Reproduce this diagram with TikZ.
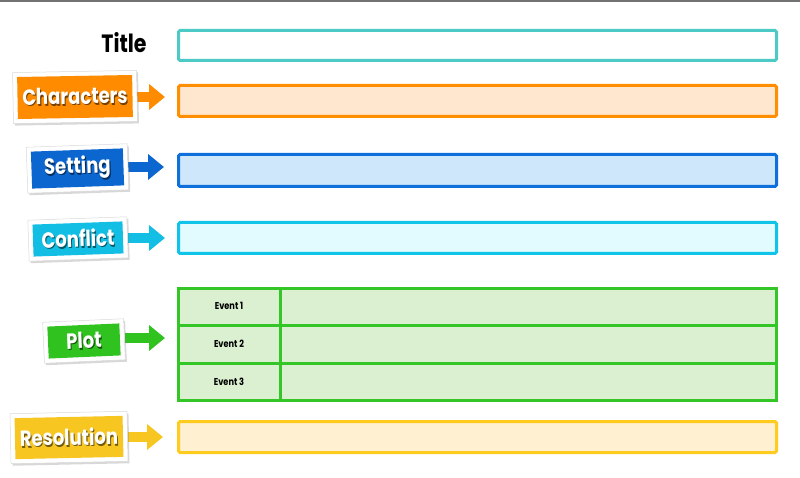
\documentclass[tikz,border=0pt]{standalone}
\usepackage{fontspec}
\setmainfont{Poppins}
\newfontfamily\labelfont{Poppins}[FakeStretch=0.82]
\usetikzlibrary{arrows.meta,shadows,backgrounds}

\definecolor{titleline}{HTML}{4DC9C6}
\definecolor{charline}{HTML}{FF8F00}
\definecolor{charfill}{HTML}{FFE6CE}
\definecolor{charlabel}{HTML}{FF8C00}
\definecolor{setline}{HTML}{0F6FDB}
\definecolor{setfill}{HTML}{CEE7FB}
\definecolor{setlabel}{HTML}{0B66CF}
\definecolor{confline}{HTML}{10C4E9}
\definecolor{conffill}{HTML}{E1FBFF}
\definecolor{conflabel}{HTML}{12BEE3}
\definecolor{plotline}{HTML}{34C527}
\definecolor{plotfill}{HTML}{DAF0D0}
\definecolor{plotlabel}{HTML}{30C21F}
\definecolor{resline}{HTML}{FFCB1F}
\definecolor{resfill}{HTML}{FFF0D1}
\definecolor{reslabel}{HTML}{F8C621}

% white word with a soft dark copy set just below and to the right
\newcommand\shadedword[2]{%
  \rlap{\hspace{1pt}\raisebox{-1.6pt}{\color{#1!45!black}#2}}#2}

% A tilted story label: white card, coloured plate, shadowed white word
% #1 name, #2 x, #3 y, #4 angle, #5 card width, #6 card height, #7 colour, #8 word
\newcommand\storylabel[8]{%
  \node[labelcard, minimum width=#5pt, minimum height=#6pt, rotate=#4] (#1card) at (#2,#3) {};
  \node[labelplate, fill=#7, minimum width={#5pt-9pt}, minimum height={#6pt-9pt}, rotate=#4] (#1plate) at (#2,#3) {};
  \node[labelword, rotate=#4] (#1word) at (#2,#3) {\shadedword{#7}{#8}};%
}

\begin{document}
\begin{tikzpicture}[x=1pt,y=-1pt,
  panel/.style={line width=3pt, rounded corners=1.5pt, minimum width=598pt, inner sep=0pt},
  labelcard/.style={fill=white, draw=black!15, line width=0.5pt, inner sep=0pt,
    drop shadow={shadow xshift=1.5pt, shadow yshift=-2pt, opacity=.3}},
  labelplate/.style={inner sep=0pt},
  labelword/.style={text=white, inner sep=0pt, font=\labelfont\fontsize{22}{24}\selectfont\bfseries},
  pointer/.style={line width=10pt, -{Triangle[length=16pt, width=25pt]}},
  eventtext/.style={font=\labelfont\fontsize{10}{11}\selectfont\bfseries, inner sep=0pt}]

\useasboundingbox (0,0) rectangle (800,478);
\begin{scope}[on background layer]
\fill[white] (0,0) rectangle (800,478);
\end{scope}
\fill[black!55] (0,0) rectangle (800,1.6);

% heading
\node[font=\labelfont\fontsize{25}{27}\selectfont\bfseries, inner sep=0pt] (title) at (124,43) {Title};

% answer panels
\node[panel, draw=titleline, fill=white, minimum height=30pt] (titlebox) at (477.5,45.5) {};
\node[panel, draw=charline, fill=charfill, minimum height=31pt] (charbox) at (477.5,101) {};
\node[panel, draw=setline, fill=setfill, minimum height=32pt] (setbox) at (477.5,170.5) {};
\node[panel, draw=confline, fill=conffill, minimum height=31pt] (confbox) at (477.5,238) {};
\node[panel, draw=resline, fill=resfill, minimum height=31pt] (resbox) at (477.5,437) {};

% plot table: three event rows
\node[panel, draw=plotline, fill=plotfill, minimum height=37pt, rounded corners=0pt] (plotrow1) at (477.5,306.5) {};
\node[panel, draw=plotline, fill=plotfill, minimum height=38pt, rounded corners=0pt] (plotrow2) at (477.5,344) {};
\node[panel, draw=plotline, fill=plotfill, minimum height=37pt, rounded corners=0pt] (plotrow3) at (477.5,381.5) {};
\draw[plotline, line width=3pt] ([xshift=103.5pt]plotrow1.north west) -- ([xshift=103.5pt]plotrow3.south west);
\node[eventtext] (ev1) at (229,306) {Event 1};
\node[eventtext] (ev2) at (229,344) {Event 2};
\node[eventtext] (ev3) at (229,382) {Event 3};

% story labels
\storylabel{char}{75}{97}{1}{124}{51}{charlabel}{Characters}
\storylabel{set}{77.5}{168.5}{2}{101}{46}{setlabel}{Setting}
\storylabel{conf}{78}{239}{2}{99}{41}{conflabel}{Conflict}
\storylabel{plot}{84}{341}{2.5}{81}{41}{plotlabel}{Plot}
\storylabel{res}{69}{437.5}{1.2}{117}{50}{reslabel}{Resolution}

% pointers from labels towards the panels
\coordinate (chartip) at (165,97);
\coordinate (settip) at (164,167);
\coordinate (conftip) at (165,238);
\coordinate (plottip) at (165,338);
\coordinate (restip) at (163,437);
\begin{scope}[on background layer]
\draw[pointer, charlabel] (charcard.east |- chartip) -- (chartip);
\draw[pointer, setlabel] (setcard.east |- settip) -- (settip);
\draw[pointer, conflabel] (confcard.east |- conftip) -- (conftip);
\draw[pointer, plotlabel] (plotcard.east |- plottip) -- (plottip);
\draw[pointer, reslabel] (rescard.east |- restip) -- (restip);
\end{scope}
\end{tikzpicture}
\end{document}
